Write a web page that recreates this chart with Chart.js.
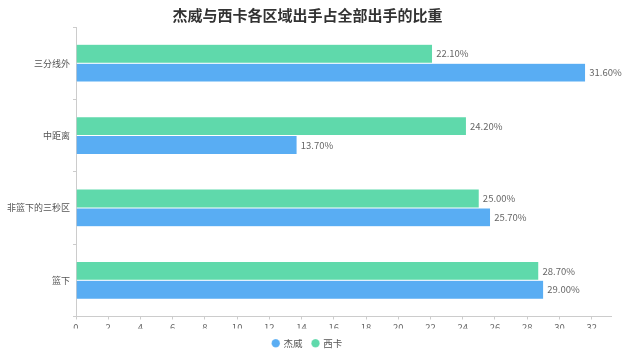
<!DOCTYPE html>
<html><head><meta charset="utf-8">
<script src="https://cdn.jsdelivr.net/npm/chart.js@4/dist/chart.umd.min.js"></script>
<style>html,body{margin:0;padding:0;background:#fff}#wrap{width:640px;height:355px}</style>
</head><body><div id="wrap"><canvas id="c" width="640" height="355"></canvas></div>
<script>
const categories = ['三分线外', '中距离', '非篮下的三秒区', '篮下'];
const seriesNames = ['杰威', '西卡'];
const jieweiValues = [31.6, 13.7, 25.7, 29.0];
const xikaValues = [22.1, 24.2, 25.0, 28.7];
const xTicks = [0, 2, 4, 6, 8, 10, 12, 14, 16, 18, 20, 22, 24, 26, 28, 30, 32];

const FONT = '"Noto Sans CJK SC", "Noto Sans", sans-serif';

const labelPlugin = {
  id: 'barLabels',
  afterDatasetsDraw(chart) {
    const ctx = chart.ctx;
    ctx.save();
    ctx.font = '9.5px ' + FONT;
    ctx.fillStyle = '#666';
    ctx.textBaseline = 'middle';
    ctx.textAlign = 'left';
    chart.data.datasets.forEach((ds, i) => {
      const meta = chart.getDatasetMeta(i);
      meta.data.forEach((bar, j) => {
        ctx.fillText(ds.data[j].toFixed(2) + '%', bar.x + 4, bar.y);
      });
    });
    ctx.restore();
  }
};

new Chart(document.getElementById('c'), {
  type: 'bar',
  data: {
    labels: categories,
    datasets: [
      { label: seriesNames[1], data: xikaValues, backgroundColor: '#5fd9ab', borderColor: '#ffffff', borderWidth: {top: 0.5, bottom: 0.5, left: 0, right: 0}, borderSkipped: false },
      { label: seriesNames[0], data: jieweiValues, backgroundColor: '#59adf3', borderColor: '#ffffff', borderWidth: {top: 0.5, bottom: 0.5, left: 0, right: 0}, borderSkipped: false }
    ]
  },
  options: {
    indexAxis: 'y',
    responsive: false,
    animation: false,
    layout: { padding: { left: 4, right: 29, top: 0, bottom: -3 } },
    datasets: { bar: { categoryPercentage: 0.52, barPercentage: 1.0 } },
    plugins: {
      title: { display: true, text: '杰威与西卡各区域出手占全部出手的比重', color: '#333', font: { family: FONT, size: 15, weight: 'bold' }, padding: { top: 6, bottom: 3 } },
      legend: {
        position: 'bottom',
        labels: {
          usePointStyle: true, pointStyle: 'circle', boxWidth: 6, boxHeight: 6, color: '#555',
          font: { family: FONT, size: 9.5 }, padding: 10,
          sort: (a, b) => (a.text === seriesNames[0] ? -1 : 1)
        }
      },
      tooltip: { enabled: false }
    },
    scales: {
      x: {
        min: 0, max: 33.2,
        afterBuildTicks: (axis) => { axis.ticks = xTicks.map(v => ({ value: v })); },
        afterFit: (scale) => { scale.height = 12; },
        grid: { display: true, drawOnChartArea: false, drawTicks: true, tickLength: 3, color: '#ccc' },
        border: { color: '#ccc' },
        ticks: { color: '#666', font: { family: FONT, size: 9.5 }, padding: 2, maxRotation: 0, autoSkip: false }
      },
      y: {
        grid: { display: true, drawOnChartArea: false, drawTicks: true, tickLength: 3, color: '#ccc', offset: true },
        border: { color: '#ccc' },
        ticks: { color: '#555', font: { family: FONT, size: 9 }, padding: 3 }
      }
    }
  },
  plugins: [labelPlugin]
});
</script></body></html>
